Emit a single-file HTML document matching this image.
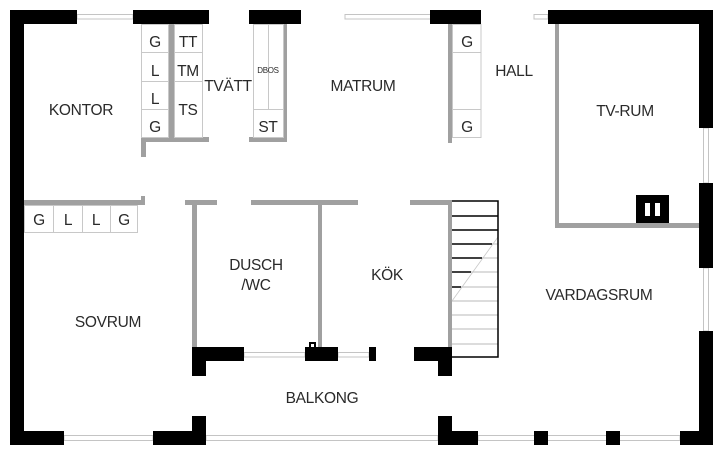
<!DOCTYPE html>
<html><head><meta charset="utf-8"><style>
html,body{margin:0;padding:0;background:#fff;}
svg{display:block;}
text{font-family:"Liberation Sans",sans-serif;font-size:15.5px;fill:#2a2a2a;letter-spacing:-0.3px;text-anchor:middle;}
.s{font-size:16px;}
</style></head><body>
<svg width="724" height="456" viewBox="0 0 724 456" xmlns="http://www.w3.org/2000/svg">
<g fill="#fff" stroke="#c4c4c4" stroke-width="1">
<rect x="77" y="14.5" width="56" height="4.5"/>
<rect x="345" y="14.5" width="86" height="4.5"/>
<rect x="534" y="14.5" width="14" height="4.5"/>
<rect x="703.5" y="128" width="5" height="55"/>
<rect x="703.5" y="268" width="5" height="63"/>
<rect x="64" y="435.5" width="89" height="5"/>
<rect x="206" y="435.5" width="232" height="5"/>
<rect x="478" y="435.5" width="202" height="5"/>
<rect x="244" y="352.5" width="61" height="4.5"/>
<rect x="338" y="352.5" width="31" height="4.5"/>
</g>
<g fill="#000">
<rect x="10" y="10" width="67" height="14"/>
<rect x="10" y="10" width="14" height="435"/>
<rect x="133" y="10" width="76" height="14"/>
<rect x="249" y="10" width="52" height="14"/>
<rect x="430" y="10" width="51" height="14"/>
<rect x="548" y="10" width="165" height="14"/>
<rect x="699" y="10" width="14" height="118"/>
<rect x="699" y="183" width="14" height="85"/>
<rect x="699" y="331" width="14" height="114"/>
<rect x="10" y="431" width="54" height="14"/>
<rect x="153" y="431" width="53" height="14"/>
<rect x="192" y="416" width="14" height="29"/>
<rect x="438" y="416" width="14" height="29"/>
<rect x="438" y="431" width="40" height="14"/>
<rect x="534" y="431" width="14" height="14"/>
<rect x="606" y="431" width="14" height="14"/>
<rect x="680" y="431" width="33" height="14"/>
<rect x="192" y="347" width="52" height="14"/>
<rect x="192" y="347" width="14" height="29"/>
<rect x="305" y="347" width="33" height="14"/>
<rect x="369" y="347" width="7" height="14"/>
<rect x="414" y="347" width="38" height="14"/>
<rect x="438" y="347" width="14" height="29"/>
<rect x="309" y="342" width="7" height="7"/>
<rect x="636" y="195" width="33" height="33"/>
</g>
<rect x="311" y="344" width="3" height="3" fill="#fff"/>
<rect x="645" y="203" width="5" height="13" fill="#fff"/>
<rect x="655" y="203" width="5" height="13" fill="#fff"/>
<g fill="#a0a0a0">
<rect x="168" y="24" width="6" height="116"/>
<rect x="141" y="137" width="68" height="5"/>
<rect x="141" y="137" width="5" height="20"/>
<rect x="283" y="24" width="4" height="118"/>
<rect x="249" y="137" width="38" height="5"/>
<rect x="448" y="24" width="4" height="119"/>
<rect x="555" y="24" width="4" height="204"/>
<rect x="555" y="223" width="144" height="5"/>
<rect x="24" y="200" width="117" height="5"/>
<rect x="141" y="196" width="4" height="9"/>
<rect x="185" y="200" width="32" height="5"/>
<rect x="192" y="200" width="5" height="147"/>
<rect x="251" y="200" width="107" height="5"/>
<rect x="318" y="200" width="4" height="147"/>
<rect x="410" y="200" width="42" height="5"/>
<rect x="448" y="200" width="4" height="147"/>
</g>
<g fill="none" stroke="#c8c8c8" stroke-width="1">
<rect x="141.5" y="24.5" width="27" height="113"/>
<line x1="141" y1="52.5" x2="168" y2="52.5"/>
<line x1="141" y1="81.5" x2="168" y2="81.5"/>
<line x1="141" y1="109.5" x2="168" y2="109.5"/>
<rect x="174.5" y="24.5" width="28" height="113"/>
<line x1="174" y1="52.5" x2="202" y2="52.5"/>
<line x1="174" y1="81.5" x2="202" y2="81.5"/>
<rect x="253.5" y="24.5" width="30" height="113"/>
<line x1="268.5" y1="24" x2="268.5" y2="109"/>
<line x1="253" y1="109.5" x2="283" y2="109.5"/>
<rect x="452.5" y="24.5" width="28.5" height="113"/>
<line x1="452" y1="52.5" x2="481" y2="52.5"/>
<line x1="452" y1="109.5" x2="481" y2="109.5"/>
<rect x="24.5" y="205.5" width="113" height="27"/>
<line x1="53.5" y1="205" x2="53.5" y2="232"/>
<line x1="82.5" y1="205" x2="82.5" y2="232"/>
<line x1="110.5" y1="205" x2="110.5" y2="232"/>
</g>
<g stroke="#c8c8c8" stroke-width="1.2">
<line x1="452" y1="301" x2="498" y2="301"/>
<line x1="452" y1="315" x2="498" y2="315"/>
<line x1="452" y1="329" x2="498" y2="329"/>
<line x1="452" y1="344" x2="498" y2="344"/>
<line x1="492" y1="244" x2="498" y2="244"/>
<line x1="482" y1="258" x2="498" y2="258"/>
<line x1="471" y1="272" x2="498" y2="272"/>
<line x1="461" y1="287" x2="498" y2="287"/>
<line x1="498" y1="237" x2="452" y2="301" stroke-width="0.8"/>
</g>
<g stroke="#000" stroke-width="1.5" fill="none">
<polyline points="452,201 498,201 498,357 452,357"/>
<line x1="452" y1="216" x2="498" y2="216"/>
<line x1="452" y1="230" x2="498" y2="230"/>
<line x1="452" y1="244" x2="492" y2="244"/>
<line x1="452" y1="258" x2="482" y2="258"/>
<line x1="452" y1="272" x2="471" y2="272"/>
<line x1="452" y1="287" x2="461" y2="287"/>
</g>
<g class="s">
<text x="155" y="47">G</text><text x="155" y="76">L</text><text x="155" y="104">L</text><text x="155" y="132">G</text>
<text x="188" y="47">TT</text><text x="188" y="76">TM</text><text x="188" y="115">TS</text>
<text x="467" y="47">G</text><text x="467" y="132">G</text>
<text x="39" y="225">G</text><text x="68" y="225">L</text><text x="96" y="225">L</text><text x="124" y="225">G</text>
<text x="268" y="132">ST</text>
</g>
<text x="268" y="73" style="font-size:8px;letter-spacing:-0.3px">DBOS</text>
<text x="228" y="91">TVÄTT</text>
<text x="81" y="115">KONTOR</text>
<text x="363" y="91">MATRUM</text>
<text x="514" y="76">HALL</text>
<text x="625" y="116">TV-RUM</text>
<text x="256" y="270">DUSCH</text>
<text x="256" y="290">/WC</text>
<text x="387" y="280">KÖK</text>
<text x="599" y="300">VARDAGSRUM</text>
<text x="108" y="327">SOVRUM</text>
<text x="322" y="403">BALKONG</text>
</svg>
</body></html>
